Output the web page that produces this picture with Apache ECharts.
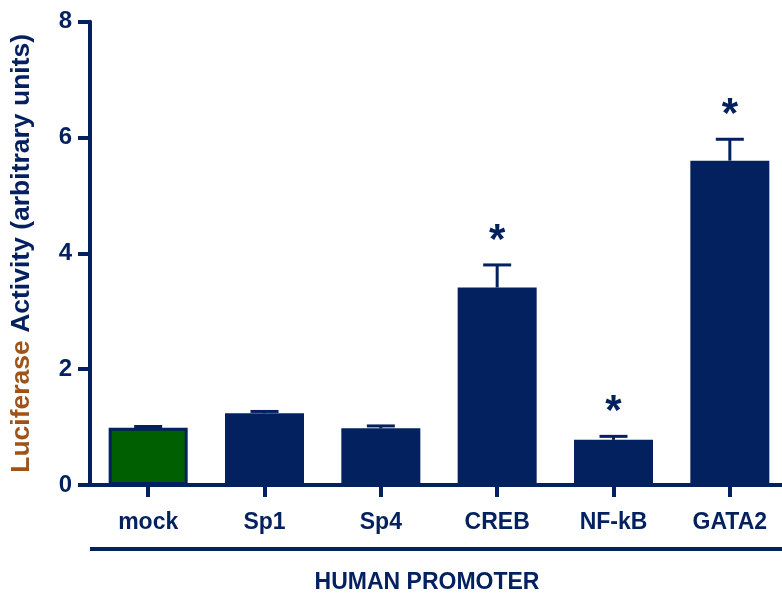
<!DOCTYPE html>
<html>
<head>
<meta charset="utf-8">
<script src="https://cdn.jsdelivr.net/npm/echarts@6/dist/echarts.min.js"></script>
<style>
html,body{margin:0;padding:0;background:#fff;}
#chart{width:782px;height:594px;}
</style>
</head>
<body>
<div id="chart"></div>
<script>
var categories = ['mock', 'Sp1', 'Sp4', 'CREB', 'NF-kB', 'GATA2'];
var means = [0.99, 1.24, 0.98, 3.41, 0.78, 5.60];
var errors = [0.02, 0.03, 0.04, 0.39, 0.06, 0.37];
var significant = [false, false, false, true, true, true];
var yTicks = [0, 2, 4, 6, 8];

var NAVY = '#03205F';
var GREEN = '#005F00';
var BROWN = '#9E5418';
var FONT = 'Liberation Sans, Arial, sans-serif';

var chart = echarts.init(document.getElementById('chart'), null, {renderer: 'canvas'});

var barData = means.map(function (v, i) {
  if (i === 0) {
    return {value: v, itemStyle: {color: GREEN, borderColor: NAVY, borderWidth: 3}};
  }
  return {value: v};
});

var errData = means.map(function (v, i) { return [i, v, v + errors[i], significant[i] ? 1 : 0]; });

var option = {
  animation: false,
  backgroundColor: '#fff',
  grid: {left: 90, top: 21.7, width: 698, height: 463.3, containLabel: false, outerBoundsMode: 'none'},
  xAxis: {
    type: 'category',
    data: categories,
    boundaryGap: true,
    axisLine: {show: true, lineStyle: {color: NAVY, width: 4}},
    axisTick: {show: true, alignWithLabel: true, length: 12, lineStyle: {color: NAVY, width: 4}},
    axisLabel: {color: NAVY, fontFamily: FONT, fontWeight: 'bold', fontSize: 23, margin: 26},
    name: 'HUMAN PROMOTER',
    nameLocation: 'middle',
    nameGap: 86,
    nameTextStyle: {color: NAVY, fontFamily: FONT, fontWeight: 'bold', fontSize: 23, padding: [0, 24, 0, 0]},
    splitLine: {show: false}
  },
  yAxis: {
    type: 'value',
    min: yTicks[0],
    max: yTicks[yTicks.length - 1],
    interval: 2,
    axisLine: {show: true, lineStyle: {color: NAVY, width: 4}},
    axisTick: {show: true, length: 12, lineStyle: {color: NAVY, width: 4}},
    axisLabel: {color: NAVY, fontFamily: FONT, fontWeight: 'bold', fontSize: 24, margin: 18},
    splitLine: {show: false},
    name: '{a|Luciferase} {b|Activity (arbitrary units)}',
    nameLocation: 'middle',
    nameGap: 55,
    nameRotate: 90,
    nameTextStyle: {
      fontFamily: FONT, fontWeight: 'bold', fontSize: 26.5,
      rich: {
        a: {color: BROWN, fontFamily: FONT, fontWeight: 'bold', fontSize: 26.5},
        b: {color: NAVY, fontFamily: FONT, fontWeight: 'bold', fontSize: 26.5}
      }
    }
  },
  graphic: [{
    type: 'line',
    shape: {x1: 90, y1: 549, x2: 782, y2: 549},
    style: {stroke: NAVY, lineWidth: 4}
  }],
  series: [
    {
      type: 'bar',
      data: barData,
      barWidth: 79,
      itemStyle: {color: NAVY},
      z: 2
    },
    {
      type: 'custom',
      data: errData,
      z: 3,
      renderItem: function (params, api) {
        var x = api.coord([api.value(0), api.value(1)])[0];
        var yLow = api.coord([api.value(0), api.value(1)])[1];
        var yHigh = api.coord([api.value(0), api.value(2)])[1];
        var half = 14;
        var children = [
          {type: 'line', shape: {x1: x, y1: yLow, x2: x, y2: yHigh}, style: {stroke: NAVY, lineWidth: 3}},
          {type: 'line', shape: {x1: x - half, y1: yHigh, x2: x + half, y2: yHigh}, style: {stroke: NAVY, lineWidth: 3}}
        ];
        if (api.value(3) === 1) {
          children.push({
            type: 'text',
            style: {
              text: '*', x: x, y: yHigh - 24, align: 'center', verticalAlign: 'middle',
              fill: NAVY, font: 'bold 42px ' + FONT
            }
          });
        }
        return {type: 'group', children: children};
      }
    }
  ]
};
chart.setOption(option);
</script>
</body>
</html>
